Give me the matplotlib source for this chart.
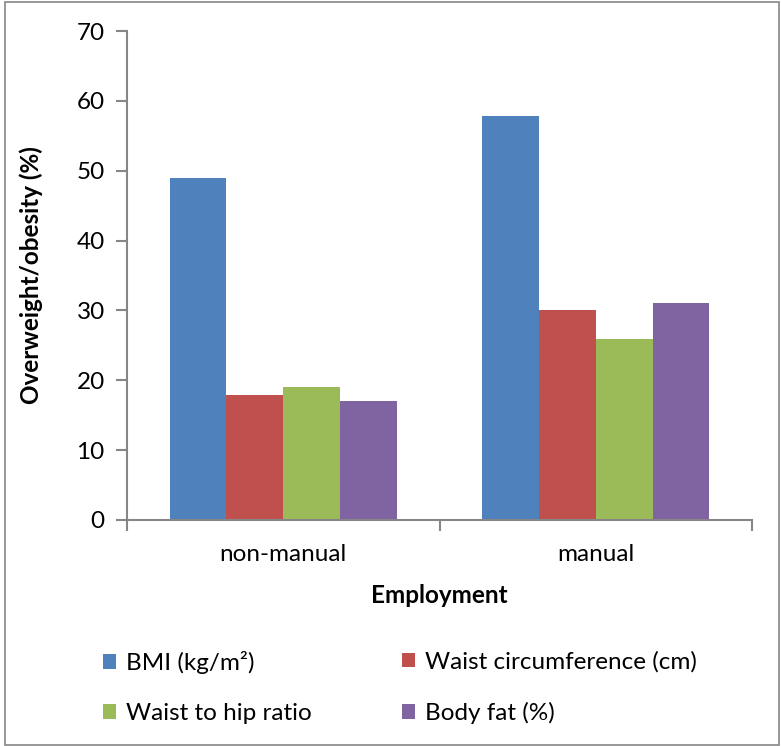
import matplotlib
matplotlib.use("Agg")
import matplotlib.pyplot as plt
from matplotlib.patches import Rectangle, Patch
import numpy as np

categories = ["non-manual", "manual"]
series_names = ["BMI (kg/m²)", "Waist circumference (cm)", "Waist to hip ratio", "Body fat (%)"]
bmi = [49.0, 57.8]
waist_circ = [17.9, 30.1]
waist_hip = [19.0, 25.9]
body_fat = [17.0, 31.0]
yticks = [0, 10, 20, 30, 40, 50, 60, 70]

colors = ["#4F81BD", "#C0504D", "#9BBB59", "#8064A2"]
W, H = 781, 746
FS = 17.5
plt.rcParams['font.family'] = ['Lato', 'DejaVu Sans']

fig = plt.figure(figsize=(W / 100, H / 100), dpi=100)
ax = fig.add_axes([127 / W, 1 - 520 / H, (752 - 127) / W, (520 - 31) / H])

values = [bmi, waist_circ, waist_hip, body_fat]
x = np.arange(len(categories))
bw = 1 / 5.5
for i, (name, vals, c) in enumerate(zip(series_names, values, colors)):
    ax.bar(x + (i - 1.5) * bw, vals, width=bw, color=c, label=name, zorder=2)

ax.set_xlim(-0.5, 1.5)
ax.set_ylim(0, 70)
ax.set_yticks(yticks)
ax.set_yticklabels([str(t) for t in yticks])
ax.set_xticks(x)
ax.set_xticklabels(categories)
ax.set_xticks([-0.5, 0.5, 1.5], minor=True)
ax.tick_params(axis='x', which='major', length=0, pad=17, labelsize=FS)
ax.tick_params(axis='x', which='minor', length=8, width=1.5, color='#868686', direction='out')
ax.tick_params(axis='y', length=8, width=1.5, color='#868686', direction='out', labelsize=FS, pad=8)

for s in ['top', 'right']:
    ax.spines[s].set_visible(False)
for s in ['left', 'bottom']:
    ax.spines[s].set_color('#868686')
    ax.spines[s].set_linewidth(1.5)

ax.set_xlabel("Employment", fontsize=FS, fontweight='bold', labelpad=14)
ax.set_ylabel("Overweight/obesity (%)", fontsize=FS, fontweight='bold', labelpad=24)

def mk_handles(idx):
    return [Patch(facecolor=colors[i]) for i in idx], [series_names[i] for i in idx]

for idx, xpos in (([0, 2], 103), ([1, 3], 402)):
    h, l = mk_handles(idx)
    fig.legend(h, l, loc='upper left', bbox_to_anchor=(xpos / W, 1 - 651 / H),
               frameon=False, fontsize=FS, handlelength=0.55, handleheight=0.55,
               handletextpad=0.4, labelspacing=1.2, borderpad=0, borderaxespad=0)

fig.patches.append(Rectangle((5 / W, 1 - 745 / H), 774 / W, 743 / H, transform=fig.transFigure,
                             fill=False, edgecolor='#868686', linewidth=1.2))

fig.savefig("out.png", dpi=100, facecolor='white')
